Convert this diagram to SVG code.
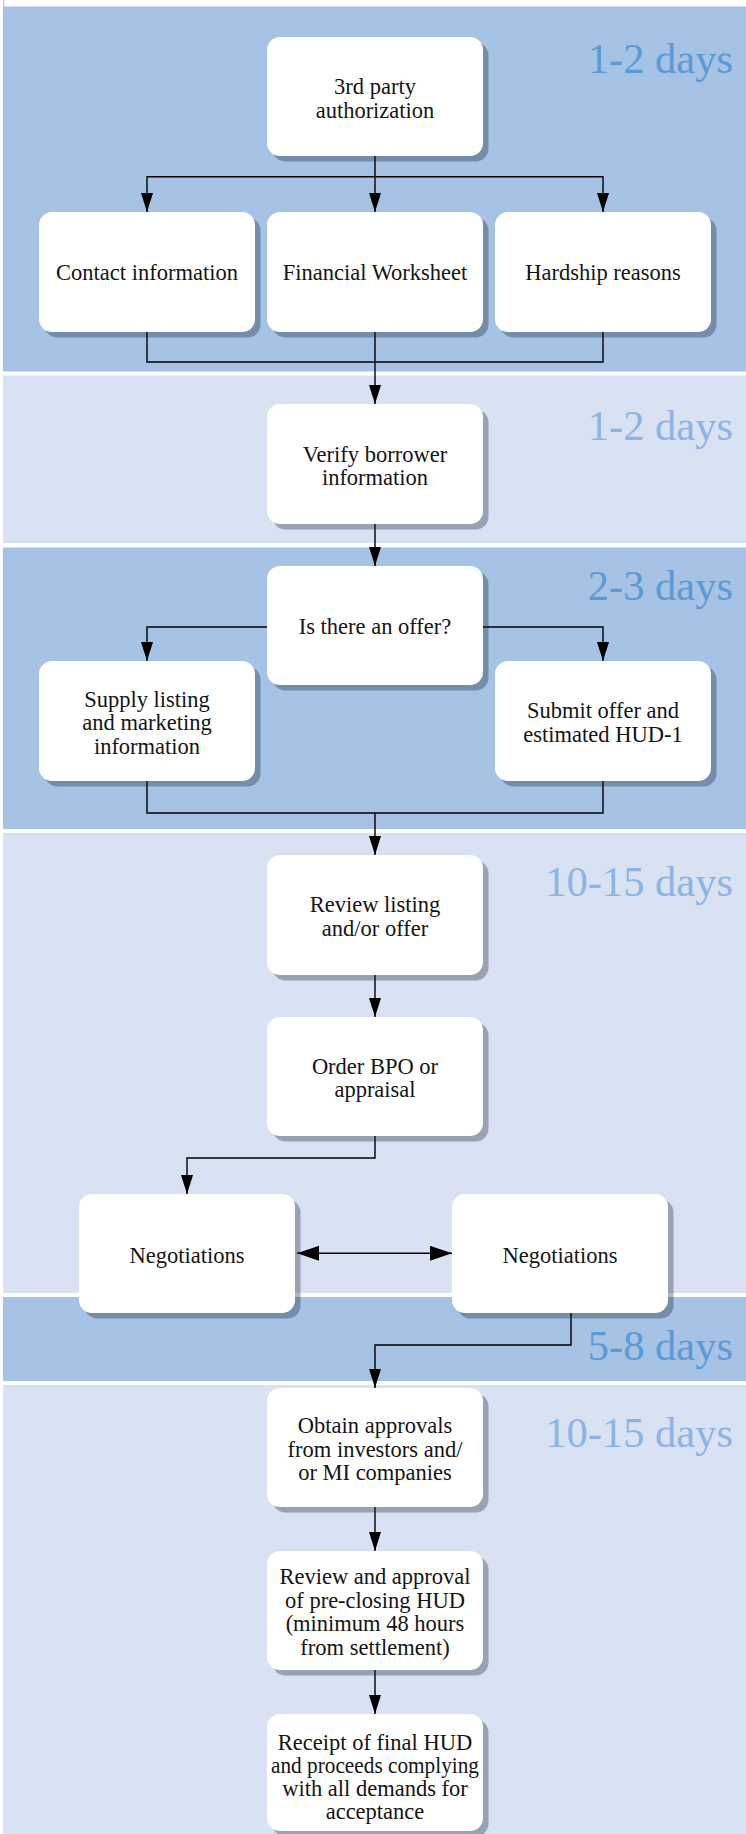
<svg xmlns="http://www.w3.org/2000/svg" width="746" height="1834" viewBox="0 0 746 1834">
  <style>
    .bandD { fill: #a6c2e5; }
    .bandL { fill: #d9e2f3; }
    .box { fill: #ffffff; }
    .shadow { fill: #142033; fill-opacity: 0.33; }
    .t { font-family: "Liberation Serif", "Times New Roman", serif; font-size: 22.5px; fill: #141414; text-anchor: middle; }
    .daysD { font-family: "Liberation Serif", "Times New Roman", serif; font-size: 42.5px; fill: #5b9bd5; text-anchor: end; }
    .daysL { font-family: "Liberation Serif", "Times New Roman", serif; font-size: 42.5px; fill: #8db4e2; text-anchor: end; }
    .conn { fill: none; stroke: #000000; stroke-width: 1.4; }
  </style>
  <defs>
    <marker id="arr" markerUnits="userSpaceOnUse" markerWidth="19" markerHeight="12" refX="19" refY="6" orient="auto">
      <path d="M0,0 L19,6 L0,12 Z" fill="#000000"/>
    </marker>
    <marker id="arrBig" markerUnits="userSpaceOnUse" markerWidth="22" markerHeight="15" refX="22" refY="7.5" orient="auto-start-reverse">
      <path d="M0,0 L22,7.5 L0,15 Z" fill="#000000"/>
    </marker>
  </defs>

  <rect width="746" height="1834" fill="#ffffff"/>

  <g id="bands">
    <rect x="3" y="0" width="1.3" height="7" fill="#b9cde9"/>
    <rect class="bandD" x="3" y="6.5" width="743" height="365"/>
    <rect class="bandL" x="3" y="375.5" width="743" height="167.5"/>
    <rect class="bandD" x="3" y="547.5" width="743" height="281.5"/>
    <rect class="bandL" x="3" y="833" width="743" height="460"/>
    <rect class="bandD" x="3" y="1297" width="743" height="84"/>
    <rect class="bandL" x="3" y="1385" width="743" height="449"/>
  </g>

  <g id="durations">
    <text class="daysD" x="733" y="72.5">1-2 days</text>
    <text class="daysL" x="733" y="440">1-2 days</text>
    <text class="daysD" x="733" y="600">2-3 days</text>
    <text class="daysL" x="733" y="895.5">10-15 days</text>
    <text class="daysD" x="733" y="1360">5-8 days</text>
    <text class="daysL" x="733" y="1447">10-15 days</text>
  </g>

  <g id="connectors">
    <path class="conn" d="M375,156 V212" marker-end="url(#arr)"/>
    <path class="conn" d="M375,176.7 H147 V212" marker-end="url(#arr)"/>
    <path class="conn" d="M375,176.7 H603 V212" marker-end="url(#arr)"/>
    <path class="conn" d="M147,332 V362 H603 V332"/>
    <path class="conn" d="M375,332 V404" marker-end="url(#arr)"/>
    <path class="conn" d="M375,524 V566" marker-end="url(#arr)"/>
    <path class="conn" d="M267,627 H147 V661" marker-end="url(#arr)"/>
    <path class="conn" d="M483,627 H603 V661" marker-end="url(#arr)"/>
    <path class="conn" d="M147,781 V813 H603 V781"/>
    <path class="conn" d="M375,813 V855" marker-end="url(#arr)"/>
    <path class="conn" d="M375,975 V1017" marker-end="url(#arr)"/>
    <path class="conn" d="M375,1136 V1158 H187 V1194" marker-end="url(#arr)"/>
    <path class="conn" d="M297,1253.3 H452" marker-start="url(#arrBig)" marker-end="url(#arrBig)"/>
    <path class="conn" d="M571,1313 V1345 H375 V1388" marker-end="url(#arr)"/>
    <path class="conn" d="M375,1507 V1551" marker-end="url(#arr)"/>
    <path class="conn" d="M375,1670 V1714" marker-end="url(#arr)"/>
  </g>

  <g id="n-authorization">
    <rect class="shadow" x="272.5" y="42.5" width="216" height="119" rx="13"/>
    <rect class="box" x="267" y="37" width="216" height="119" rx="13"/>
    <text class="t" x="375" y="94">3rd party</text>
    <text class="t" x="375" y="117.5">authorization</text>
  </g>

  <g id="n-contact">
    <rect class="shadow" x="44.5" y="217.5" width="216" height="120" rx="13"/>
    <rect class="box" x="39" y="212" width="216" height="120" rx="13"/>
    <text class="t" x="147" y="280">Contact information</text>
  </g>

  <g id="n-financial">
    <rect class="shadow" x="272.5" y="217.5" width="216" height="120" rx="13"/>
    <rect class="box" x="267" y="212" width="216" height="120" rx="13"/>
    <text class="t" x="375" y="280">Financial Worksheet</text>
  </g>

  <g id="n-hardship">
    <rect class="shadow" x="500.5" y="217.5" width="216" height="120" rx="13"/>
    <rect class="box" x="495" y="212" width="216" height="120" rx="13"/>
    <text class="t" x="603" y="280">Hardship reasons</text>
  </g>

  <g id="n-verify">
    <rect class="shadow" x="272.5" y="409.5" width="216" height="120" rx="13"/>
    <rect class="box" x="267" y="404" width="216" height="120" rx="13"/>
    <text class="t" x="375" y="461.5">Verify borrower</text>
    <text class="t" x="375" y="485">information</text>
  </g>

  <g id="n-offer">
    <rect class="shadow" x="272.5" y="571.5" width="216" height="119" rx="13"/>
    <rect class="box" x="267" y="566" width="216" height="119" rx="13"/>
    <text class="t" x="375" y="634">Is there an offer?</text>
  </g>

  <g id="n-supply">
    <rect class="shadow" x="44.5" y="666.5" width="216" height="120" rx="13"/>
    <rect class="box" x="39" y="661" width="216" height="120" rx="13"/>
    <text class="t" x="147" y="706.5">Supply listing</text>
    <text class="t" x="147" y="730">and marketing</text>
    <text class="t" x="147" y="753.5">information</text>
  </g>

  <g id="n-submit">
    <rect class="shadow" x="500.5" y="666.5" width="216" height="120" rx="13"/>
    <rect class="box" x="495" y="661" width="216" height="120" rx="13"/>
    <text class="t" x="603" y="717.5">Submit offer and</text>
    <text class="t" x="603" y="741.5">estimated HUD-1</text>
  </g>

  <g id="n-review-listing">
    <rect class="shadow" x="272.5" y="860.5" width="216" height="120" rx="13"/>
    <rect class="box" x="267" y="855" width="216" height="120" rx="13"/>
    <text class="t" x="375" y="912">Review listing</text>
    <text class="t" x="375" y="935.5">and/or offer</text>
  </g>

  <g id="n-order">
    <rect class="shadow" x="272.5" y="1022.5" width="216" height="119" rx="13"/>
    <rect class="box" x="267" y="1017" width="216" height="119" rx="13"/>
    <text class="t" x="375" y="1073.5">Order BPO or</text>
    <text class="t" x="375" y="1097">appraisal</text>
  </g>

  <g id="n-negotiations-left">
    <rect class="shadow" x="84.5" y="1199.5" width="216" height="119" rx="13"/>
    <rect class="box" x="79" y="1194" width="216" height="119" rx="13"/>
    <text class="t" x="187" y="1262.5">Negotiations</text>
  </g>

  <g id="n-negotiations-right">
    <rect class="shadow" x="457.5" y="1199.5" width="216" height="119" rx="13"/>
    <rect class="box" x="452" y="1194" width="216" height="119" rx="13"/>
    <text class="t" x="560" y="1262.5">Negotiations</text>
  </g>

  <g id="n-obtain">
    <rect class="shadow" x="272.5" y="1393.5" width="216" height="119" rx="13"/>
    <rect class="box" x="267" y="1388" width="216" height="119" rx="13"/>
    <text class="t" x="375" y="1433">Obtain approvals</text>
    <text class="t" x="375" y="1456.5">from investors and/</text>
    <text class="t" x="375" y="1480">or MI companies</text>
  </g>

  <g id="n-review-approval">
    <rect class="shadow" x="272.5" y="1556.5" width="216" height="119" rx="13"/>
    <rect class="box" x="267" y="1551" width="216" height="119" rx="13"/>
    <text class="t" x="375" y="1584">Review and approval</text>
    <text class="t" x="375" y="1607.5">of pre-closing HUD</text>
    <text class="t" x="375" y="1631">(minimum 48 hours</text>
    <text class="t" x="375" y="1654.5">from settlement)</text>
  </g>

  <g id="n-receipt">
    <rect class="shadow" x="272.5" y="1719.5" width="216" height="117" rx="13"/>
    <rect class="box" x="267" y="1714" width="216" height="117" rx="13"/>
    <text class="t" x="375" y="1749.5">Receipt of final HUD</text>
    <text class="t" x="375" y="1772.7" textLength="208" lengthAdjust="spacingAndGlyphs">and proceeds complying</text>
    <text class="t" x="375" y="1796">with all demands for</text>
    <text class="t" x="375" y="1819.3">acceptance</text>
  </g>
</svg>
